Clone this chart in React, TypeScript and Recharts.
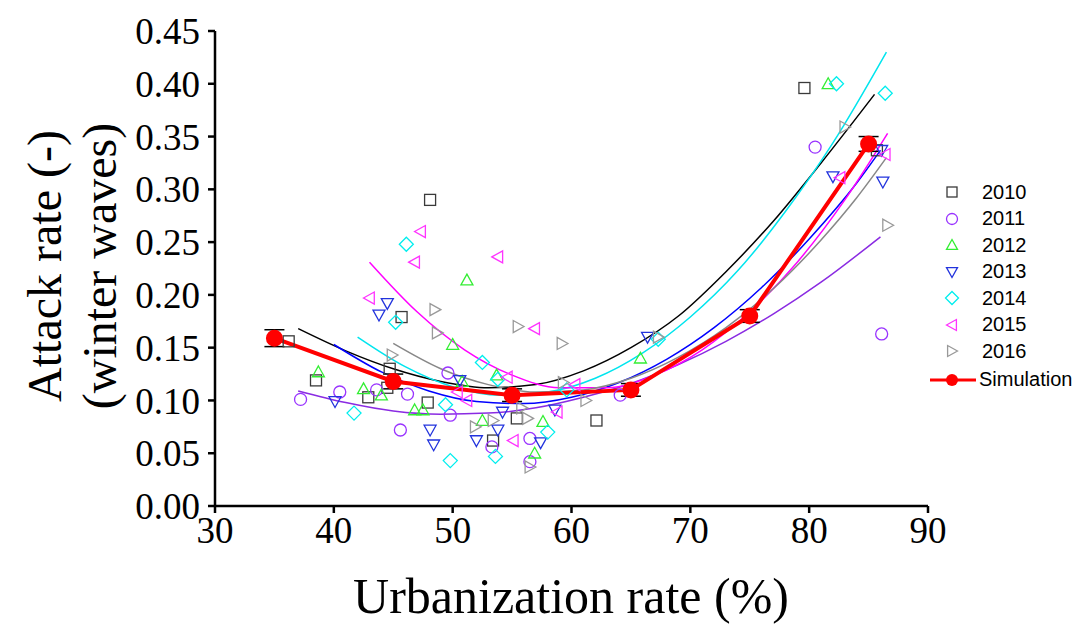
import {
  ComposedChart,
  Scatter,
  Line,
  XAxis,
  YAxis,
  ErrorBar,
} from "recharts";

// observed data per year (urbanization %, attack rate)
const x2010 = [36.2, 38.5, 42.9, 44.5, 44.7, 45.7, 47.9, 48.1, 53.4, 55.4, 62.1, 79.6, 85.7];
const y2010 = [0.156, 0.119, 0.103, 0.112, 0.13, 0.179, 0.098, 0.29, 0.062, 0.083, 0.081, 0.396, 0.337];
const x2011 = [37.2, 40.5, 43.6, 45.6, 46.2, 49.6, 49.8, 53.3, 56.5, 56.5, 64.1, 80.5, 86.1];
const y2011 = [0.101, 0.108, 0.11, 0.072, 0.106, 0.126, 0.086, 0.056, 0.064, 0.042, 0.105, 0.34, 0.163];
const x2012 = [38.7, 42.5, 44.0, 46.8, 47.5, 50.0, 50.8, 51.2, 52.5, 53.7, 56.9, 57.6, 65.8, 81.6];
const y2012 = [0.127, 0.111, 0.105, 0.091, 0.091, 0.153, 0.118, 0.214, 0.081, 0.124, 0.05, 0.08, 0.14, 0.4];
const x2013 = [40.1, 43.8, 44.5, 48.1, 48.4, 50.6, 52.0, 53.8, 54.2, 57.4, 58.6, 66.4, 82.0, 86.1, 86.2];
const y2013 = [0.099, 0.181, 0.192, 0.072, 0.058, 0.119, 0.062, 0.072, 0.089, 0.06, 0.091, 0.16, 0.312, 0.337, 0.307];
const x2014 = [41.7, 45.2, 46.1, 49.4, 49.8, 52.5, 53.6, 53.8, 58.0, 59.6, 67.3, 82.3, 86.4];
const y2014 = [0.088, 0.174, 0.248, 0.096, 0.043, 0.136, 0.047, 0.12, 0.07, 0.11, 0.158, 0.4, 0.391];
const x2015 = [43.0, 46.8, 47.3, 50.4, 51.2, 53.8, 54.6, 55.1, 56.9, 58.8, 60.3, 82.6, 86.4];
const y2015 = [0.197, 0.231, 0.26, 0.108, 0.1, 0.236, 0.122, 0.062, 0.168, 0.089, 0.115, 0.311, 0.333];
const x2016 = [44.9, 48.5, 48.7, 51.9, 53.4, 55.5, 55.8, 56.3, 56.5, 59.2, 59.3, 61.2, 67.3, 83.0, 86.6];
const y2016 = [0.143, 0.186, 0.164, 0.075, 0.081, 0.17, 0.093, 0.083, 0.037, 0.154, 0.117, 0.1, 0.16, 0.359, 0.266];

// fitted curves
const fit2010X = [37, 41, 45, 49, 53, 57, 61, 65, 69, 73, 77, 81, 85.5];
const fit2010Y = [0.168, 0.147, 0.13, 0.118, 0.112, 0.115, 0.128, 0.15, 0.18, 0.222, 0.27, 0.325, 0.39];
const fit2011X = [37, 41, 45, 49, 53, 57, 61, 65, 69, 73, 77, 81, 86];
const fit2011Y = [0.109, 0.098, 0.09, 0.087, 0.088, 0.093, 0.103, 0.116, 0.134, 0.156, 0.182, 0.212, 0.255];
const fit2013X = [40, 44, 48, 52, 56, 60, 64, 68, 72, 76, 80, 84, 86];
const fit2013Y = [0.153, 0.127, 0.109, 0.099, 0.097, 0.103, 0.117, 0.139, 0.169, 0.207, 0.253, 0.306, 0.337];
const fit2014X = [42, 46, 50, 54, 58, 62, 66, 70, 74, 78, 82, 86.5];
const fit2014Y = [0.16, 0.132, 0.113, 0.105, 0.108, 0.121, 0.145, 0.179, 0.223, 0.279, 0.344, 0.43];
const fit2015X = [43, 47, 51, 55, 59, 63, 67, 71, 75, 79, 83, 86.6];
const fit2015Y = [0.231, 0.184, 0.148, 0.124, 0.112, 0.112, 0.124, 0.148, 0.184, 0.231, 0.29, 0.353];
const fit2016X = [45, 49, 53, 57, 61, 65, 69, 73, 77, 81, 84, 86.5];
const fit2016Y = [0.154, 0.13, 0.115, 0.108, 0.11, 0.121, 0.141, 0.169, 0.206, 0.252, 0.292, 0.33];

const simX = [35, 45, 55, 65, 75, 85];
const simY = [0.159, 0.118, 0.105, 0.11, 0.18, 0.343];
const simErr = [0.008, 0.007, 0.006, 0.006, 0.006, 0.007];

const xTicks = [30, 40, 50, 60, 70, 80, 90];
const yTicks = [0, 0.05, 0.1, 0.15, 0.2, 0.25, 0.3, 0.35, 0.4, 0.45];

const pts = (xs: number[], ys: number[]) => xs.map((x, i) => ({ x, y: ys[i] }));

type Kind = "square" | "circle" | "up" | "down" | "diamond" | "left" | "right";

const series: { name: string; kind: Kind; color: string; xs: number[]; ys: number[] }[] = [
  { name: "2010", kind: "square", color: "#3a3a3a", xs: x2010, ys: y2010 },
  { name: "2011", kind: "circle", color: "#9933ff", xs: x2011, ys: y2011 },
  { name: "2012", kind: "up", color: "#33ee33", xs: x2012, ys: y2012 },
  { name: "2013", kind: "down", color: "#2233dd", xs: x2013, ys: y2013 },
  { name: "2014", kind: "diamond", color: "#00eeee", xs: x2014, ys: y2014 },
  { name: "2015", kind: "left", color: "#ff33ff", xs: x2015, ys: y2015 },
  { name: "2016", kind: "right", color: "#999999", xs: x2016, ys: y2016 },
];

const fits = [
  { key: "f2010", color: "#000000", xs: fit2010X, ys: fit2010Y },
  { key: "f2011", color: "#8a2be2", xs: fit2011X, ys: fit2011Y },
  { key: "f2013", color: "#0000ff", xs: fit2013X, ys: fit2013Y },
  { key: "f2014", color: "#00e5ee", xs: fit2014X, ys: fit2014Y },
  { key: "f2015", color: "#ff00ff", xs: fit2015X, ys: fit2015Y },
  { key: "f2016", color: "#888888", xs: fit2016X, ys: fit2016Y },
];

const Marker = ({ cx, cy, kind, color, s = 6 }: any) => {
  if (cx == null || cy == null) return null;
  const p = { fill: "none", stroke: color, strokeWidth: 1.3 };
  switch (kind) {
    case "square":
      return <rect x={cx - s + 0.5} y={cy - s + 0.5} width={2 * s - 1} height={2 * s - 1} {...p} />;
    case "circle":
      return <circle cx={cx} cy={cy} r={s} {...p} />;
    case "up":
      return <polygon points={`${cx},${cy - s} ${cx + s},${cy + s * 0.8} ${cx - s},${cy + s * 0.8}`} {...p} />;
    case "down":
      return <polygon points={`${cx},${cy + s} ${cx + s},${cy - s * 0.8} ${cx - s},${cy - s * 0.8}`} {...p} />;
    case "diamond":
      return <polygon points={`${cx},${cy - s - 1} ${cx + s + 1},${cy} ${cx},${cy + s + 1} ${cx - s - 1},${cy}`} {...p} />;
    case "left":
      return <polygon points={`${cx - s},${cy} ${cx + s * 0.8},${cy - s} ${cx + s * 0.8},${cy + s}`} {...p} />;
    default:
      return <polygon points={`${cx + s},${cy} ${cx - s * 0.8},${cy - s} ${cx - s * 0.8},${cy + s}`} {...p} />;
  }
};

const LegendBox = () => (
  <div
    style={{
      position: "absolute",
      left: 930,
      top: 179,
      fontFamily: "Liberation Sans, Arial, sans-serif",
      fontSize: 20,
      color: "#000",
    }}
  >
    {series.map((s) => (
      <div key={s.name} style={{ display: "flex", alignItems: "center", height: 26.5 }}>
        <svg width={46} height={20}>
          <Marker cx={22} cy={10} kind={s.kind} color={s.color} s={5.5} />
        </svg>
        <span style={{ marginLeft: 6 }}>{s.name}</span>
      </div>
    ))}
    <div style={{ display: "flex", alignItems: "center", height: 30 }}>
      <svg width={46} height={20}>
        <line x1={0} y1={10} x2={46} y2={10} stroke="#ff0000" strokeWidth={3} />
        <circle cx={22} cy={10} r={6} fill="#ff0000" />
      </svg>
      <span style={{ marginLeft: 3 }}>Simulation</span>
    </div>
  </div>
);

const serif = "Liberation Serif, Times New Roman, serif";

export default function App() {
  const simData = simX.map((x, i) => ({ x, y: simY[i], err: simErr[i] }));
  return (
    <div style={{ position: "absolute", left: 0, top: 0, width: 1087, height: 624, background: "#fff" }}>
      <ComposedChart
        width={1087}
        height={624}
        margin={{ top: 31, right: 159, bottom: 0, left: 0 }}
      >
        <XAxis
          type="number"
          dataKey="x"
          domain={[30, 90]}
          ticks={xTicks}
          interval={0}
          allowDataOverflow
          stroke="#000"
          strokeWidth={2.5}
          tickSize={7}
          tickMargin={4}
          height={118}
          tick={{ fill: "#000", fontSize: 37, fontFamily: serif }}
          label={{
            content: () => (
              <text x={571} y={613} textAnchor="middle" fontSize={50} fontFamily={serif} fill="#000">
                Urbanization rate (%)
              </text>
            ),
          }}
        />
        <YAxis
          type="number"
          dataKey="y"
          domain={[0, 0.45]}
          ticks={yTicks}
          interval={0}
          allowDataOverflow
          width={215}
          stroke="#000"
          strokeWidth={2.5}
          tickSize={7}
          tickMargin={8}
          tickFormatter={(v: number) => v.toFixed(2)}
          tick={{ fill: "#000", fontSize: 37, fontFamily: serif }}
          label={{
            content: () => (
              <g fontFamily={serif} fontSize={48} fill="#000" textAnchor="middle">
                <text transform="translate(61,266) rotate(-90)">Attack rate (-)</text>
                <text transform="translate(116,266) rotate(-90)">(winter waves)</text>
              </g>
            ),
          }}
        />
        {fits.map((f) => (
          <Line
            key={f.key}
            data={pts(f.xs, f.ys)}
            dataKey="y"
            type="monotone"
            stroke={f.color}
            strokeWidth={1.5}
            dot={false}
            activeDot={false}
            isAnimationActive={false}
          />
        ))}
        {series.map((s) => (
          <Scatter
            key={s.name}
            name={s.name}
            data={pts(s.xs, s.ys)}
            dataKey="y"
            isAnimationActive={false}
            shape={(props: any) => <Marker cx={props.cx} cy={props.cy} kind={s.kind} color={s.color} />}
          />
        ))}
        <Line
          data={simData}
          dataKey="y"
          type="linear"
          stroke="#ff0000"
          strokeWidth={4}
          dot={{ r: 6.5, fill: "#ff0000", stroke: "#ff0000" }}
          activeDot={false}
          isAnimationActive={false}
        >
          <ErrorBar dataKey="err" width={10} stroke="#000" strokeWidth={1.5} direction="y" />
        </Line>
      </ComposedChart>
      <LegendBox />
    </div>
  );
}
